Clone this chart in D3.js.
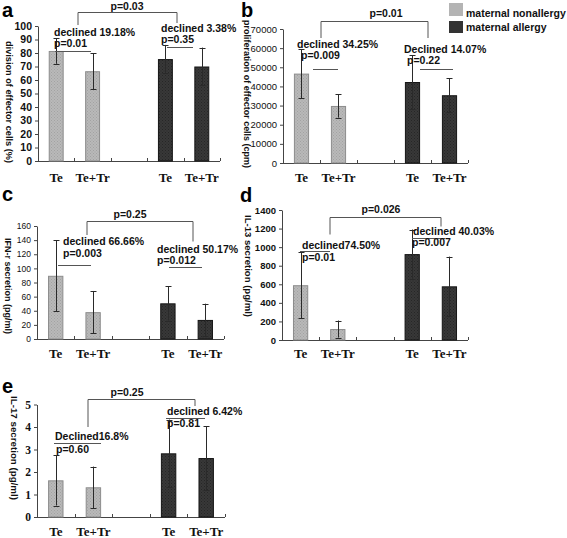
<!DOCTYPE html>
<html><head><meta charset="utf-8">
<script src="https://cdn.jsdelivr.net/npm/d3@7"></script>
<style>body{margin:0;background:#fff} svg{display:block}</style>
</head><body><svg id="chart" width="567" height="538"></svg>
<script>
// ---------- data ----------
const slots = ["Te", "Te+Tr", "", "Te", "Te+Tr"];
const slotGroup = ["maternal nonallergy", "maternal nonallergy", null, "maternal allergy", "maternal allergy"];
const legendLabels = ["maternal nonallergy", "maternal allergy"];

const divisionMean = [81.5, 66.5, null, 75.5, 70];
const divisionErr  = [9.5, 13.5, null, 10.5, 14];
const prolifMean   = [46700, 29800, null, 42300, 35400];
const prolifErr    = [12800, 6100, null, 14000, 8900];
const ifnMean      = [89.5, 38, null, 50.5, 27];
const ifnErr       = [50.5, 30, null, 24.5, 23];
const il13Mean     = [590, 118, null, 925, 578];
const il13Err      = [355, 92, null, 265, 320];
const il17Mean     = [1.63, 1.32, null, 2.83, 2.62];
const il17Err      = [1.12, 0.92, null, 1.5, 1.42];

const divisionTicks = [0, 10, 20, 30, 40, 50, 60, 70, 80, 90, 100];
const prolifTicks   = [0, 10000, 20000, 30000, 40000, 50000, 60000, 70000];
const ifnTicks      = [0, 20, 40, 60, 80, 100, 120, 140, 160];
const il13Ticks     = [0, 200, 400, 600, 800, 1000, 1200, 1400];
const il17Ticks     = [0, 1, 2, 3, 4, 5];

const titles = ["division of effector cells (%)", "proliferation of effector cells (cpm)",
                "IFN-r secretion (pg/ml)", "IL-13 secretion (pg/ml)", "IL-17 secretion (pg/ml)"];

// ---------- layout ----------
const SANS = "'Liberation Sans', Arial, Helvetica, sans-serif";
const SERIF = "'Liberation Serif', 'Times New Roman', serif";

const panels = [
  { letter: "a", mean: divisionMean, err: divisionErr, ticks: divisionTicks, title: titles[0],
    x0: 38, x1: 220, y0: 161, y1: 26, catY: 182, lx: 2, ly: 17,
    tick: { size: 10.5, weight: "bold", family: SANS },
    tt: { x: 9, cy: 102, len: 122, size: 9.5 },
    notes: [["p=0.03", 127, 10, "middle"], ["declined 19.18%", 54, 36], ["p=0.01", 54, 47],
            ["declined 3.38%", 161, 32], ["p=0.35", 161, 43]],
    paths: ["M78,25V12.5H177V23", "M55,51.5H91", "M167,47.5H193"] },
  { letter: "b", mean: prolifMean, err: prolifErr, ticks: prolifTicks, title: titles[1],
    x0: 283, x1: 468, y0: 163, y1: 29, catY: 182, lx: 241, ly: 17,
    tick: { size: 9.5, weight: "normal", family: SANS },
    tt: { x: 247, cy: 94, len: 148, size: 9.5 },
    notes: [["p=0.01", 386, 17, "middle"], ["declined 34.25%", 297, 48], ["p=0.009", 301, 59],
            ["Declined 14.07%", 404, 53], ["p=0.22", 407, 64]],
    paths: ["M321,38V21.5H428V38", "M313,69.5H338", "M420,69.5H453"] },
  { letter: "c", mean: ifnMean, err: ifnErr, ticks: ifnTicks, title: titles[2],
    x0: 37, x1: 224, y0: 339, y1: 226, catY: 358, lx: 2, ly: 201,
    tick: { size: 8.5, weight: "normal", family: SANS },
    tt: { x: 8, cy: 286, len: 96, size: 8.5 },
    notes: [["p=0.25", 130, 218, "middle"], ["declined 66.66%", 63, 245], ["p=0.003", 63, 257],
            ["declined 50.17%", 157, 253], ["p=0.012", 157, 264]],
    paths: ["M87,235V221.5H193V241.5", "M58,265.5H91", "M169,267.5H202"] },
  { letter: "d", mean: il13Mean, err: il13Err, ticks: il13Ticks, title: titles[3],
    x0: 282, x1: 468, y0: 340, y1: 210, catY: 358, lx: 240, ly: 202,
    tick: { size: 9.5, weight: "bold", family: SANS },
    tt: { x: 248, cy: 266, len: 102, size: 8.5 },
    notes: [["p=0.026", 381, 213, "middle"], ["declined74.50%", 302, 249], ["p=0.01", 302, 261],
            ["declined 40.03%", 413, 235], ["p=0.007", 412, 246]],
    paths: ["M330,234.5V217.5H441V226.5", "M300,251.5H330", "M412,238.5H445"] },
  { letter: "e", mean: il17Mean, err: il17Err, ticks: il17Ticks, title: titles[4],
    x0: 37, x1: 225, y0: 517, y1: 404.5, catY: 536, lx: 2, ly: 393,
    tick: { size: 11.5, weight: "bold", family: SERIF },
    tt: { x: 14, cy: 448, len: 104, size: 8.5 },
    notes: [["p=0.25", 127, 396, "middle"], ["Declined16.8%", 55, 440], ["p=0.60", 56, 453],
            ["declined 6.42%", 167, 415], ["p=0.81", 167, 427]],
    paths: ["M88,427V399.5H195V406", "M54,443.5H101", "M166,418.5H205"] }
];

const svg = d3.select("#chart");
const defs = svg.append("defs");
function stipple(id, base, dot) {
  const p = defs.append("pattern").attr("id", id).attr("patternUnits", "userSpaceOnUse")
    .attr("width", 3).attr("height", 3);
  p.append("rect").attr("width", 3).attr("height", 3).attr("fill", base);
  p.append("rect").attr("x", 0).attr("y", 0).attr("width", 1).attr("height", 1).attr("fill", dot);
  p.append("rect").attr("x", 1.5).attr("y", 1.5).attr("width", 1).attr("height", 1).attr("fill", dot);
}
stipple("lightFill", "#b9b9b9", "#a2a2a2");
stipple("darkFill", "#383838", "#262626");
const fillOf = g => g === legendLabels[0] ? "url(#lightFill)" : "url(#darkFill)";
const strokeOf = g => g === legendLabels[0] ? "#8c8c8c" : "#151515";

panels.forEach(p => {
  const g = svg.append("g");
  const x = d3.scaleBand().domain(d3.range(slots.length)).range([p.x0, p.x1])
    .paddingInner(0.59).paddingOuter(0.295);
  const y = d3.scaleLinear().domain([0, d3.max(p.ticks)]).range([p.y0, p.y1]);

  // y axis
  const ya = g.append("g").attr("transform", `translate(${p.x0},0)`)
    .call(d3.axisLeft(y).tickValues(p.ticks).tickSize(3).tickSizeOuter(0).tickPadding(3).tickFormat(d3.format("d")));
  ya.select(".domain").attr("stroke", "#444");
  ya.selectAll(".tick line").attr("stroke", "#444");
  ya.selectAll(".tick text").attr("fill", "#111").style("font-family", p.tick.family)
    .style("font-size", p.tick.size + "px").style("font-weight", p.tick.weight);

  // x axis
  g.append("line").attr("x1", p.x0).attr("x2", p.x1).attr("y1", y(0) + 0.5).attr("y2", y(0) + 0.5)
    .attr("stroke", "#444");
  const bounds = d3.range(slots.length).map(i => x(i) + x.bandwidth() + x.step() * x.paddingInner() / 2);
  g.selectAll(".xt").data(bounds).join("line").attr("x1", d => Math.round(d) + 0.5).attr("x2", d => Math.round(d) + 0.5)
    .attr("y1", y(0)).attr("y2", y(0) - 3).attr("stroke", "#444");

  const data = slots.map((s, i) => ({ i, cat: s, group: slotGroup[i], mean: p.mean[i], err: p.err[i] }))
    .filter(d => d.mean != null);

  // bars
  g.selectAll(".bar").data(data).join("rect")
    .attr("x", d => x(d.i) + 0.5).attr("y", d => y(d.mean) + 0.5)
    .attr("width", x.bandwidth() - 1).attr("height", d => y(0) - y(d.mean) - 0.5)
    .attr("fill", d => fillOf(d.group)).attr("stroke", d => strokeOf(d.group)).attr("stroke-width", 1);

  // error bars
  const eb = g.selectAll(".eb").data(data).join("g");
  const cx = d => Math.round(x(d.i) + x.bandwidth() / 2) + 0.5;
  eb.append("line").attr("x1", cx).attr("x2", cx)
    .attr("y1", d => y(d.mean + d.err)).attr("y2", d => y(Math.max(0, d.mean - d.err)))
    .attr("stroke", "#2a2a2a");
  [1, -1].forEach(s => {
    eb.append("line").attr("x1", d => cx(d) - 3).attr("x2", d => cx(d) + 3)
      .attr("y1", d => Math.round(y(d.mean + s * d.err)) + 0.5).attr("y2", d => Math.round(y(d.mean + s * d.err)) + 0.5)
      .attr("stroke", "#2a2a2a");
  });

  // category labels
  g.selectAll(".cat").data(data).join("text")
    .attr("x", d => x(d.i) + x.bandwidth() / 2).attr("y", p.catY)
    .attr("text-anchor", "middle").style("font-family", SERIF).style("font-weight", "bold")
    .style("font-size", "13px").attr("fill", "#111").text(d => d.cat);

  // y title
  g.append("text").attr("transform", `translate(${p.tt.x},${p.tt.cy}) rotate(90)`)
    .attr("text-anchor", "middle").attr("dominant-baseline", "central")
    .attr("textLength", p.tt.len).attr("lengthAdjust", "spacingAndGlyphs")
    .style("font-family", SANS).style("font-weight", "bold").style("font-size", p.tt.size + "px")
    .attr("fill", "#111").text(p.title);

  // panel letter
  g.append("text").attr("x", p.lx).attr("y", p.ly).style("font-family", SANS).style("font-weight", "bold")
    .style("font-size", "20px").attr("fill", "#000").text(p.letter);

  // annotations
  g.selectAll(".ap").data(p.paths).join("path").attr("d", d => d).attr("fill", "none")
    .attr("stroke", "#555").attr("stroke-width", 1);
  g.selectAll(".an").data(p.notes).join("text")
    .attr("x", d => d[1]).attr("y", d => d[2]).attr("text-anchor", d => d[3] || "start")
    .style("font-family", SANS).style("font-weight", "bold").style("font-size", "10.5px")
    .attr("fill", "#111").text(d => d[0]);
});

// legend
const lg = svg.append("g");
const legendRows = [[3, 13, 17], [21, 12, 31]];
lg.selectAll("rect").data(legendLabels).join("rect")
  .attr("x", 449).attr("y", (d, i) => legendRows[i][0]).attr("width", 14).attr("height", (d, i) => legendRows[i][1])
  .attr("fill", d => d === legendLabels[0] ? "#b4b4b4" : "#333");
lg.selectAll("text").data(legendLabels).join("text")
  .attr("x", 466).attr("y", (d, i) => legendRows[i][2])
  .style("font-family", SANS).style("font-weight", "bold").style("font-size", "10.5px")
  .attr("fill", "#111").text(d => d);
</script>
</body></html>
